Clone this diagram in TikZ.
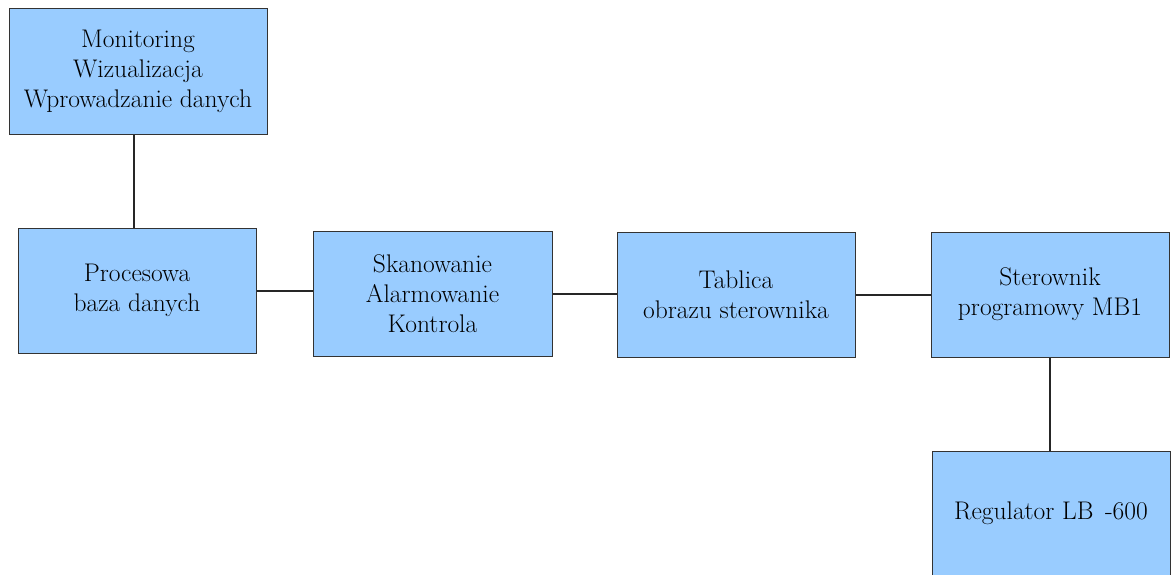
\documentclass[tikz,border=0pt]{standalone}
\usepackage{fontspec}
\begin{document}
\begin{tikzpicture}[x=1pt,y=-1pt,
  blockbox/.style={draw=black!80, line width=1pt, fill=boxblue,
    minimum width=#1, minimum height=125pt, align=center, inner sep=0pt,
    font=\fontsize{25.5}{30}\selectfont, text=black},
  blockbox/.default=238pt,
  link/.style={draw=black!85, line width=2pt}]
\definecolor{boxblue}{HTML}{99CCFF}
\useasboundingbox (0,0) rectangle (1171,574);
\clip (0,0) rectangle (1171,574);

% blocks
\node[blockbox=258pt, minimum height=126pt] (mon) at (138,71.5)
  {Monitoring\\Wizualizacja\\Wprowadzanie danych};
\node[blockbox] (baza) at (137,290.5) {Procesowa\\baza danych};
\node[blockbox=239pt] (skan) at (432.5,293.5) {Skanowanie\\Alarmowanie\\Kontrola};
\node[blockbox] (tab) at (736,294.5) {Tablica\\obrazu sterownika};
\node[blockbox] (ster) at (1050,294.5) {Sterownik\\programowy MB1};
\node[blockbox] (reg) at (1051,513.5) {Regulator LB\hspace{0.45em}-600};

% connections
\coordinate (c1) at (134,0);
\draw[link] (mon.south -| c1) -- (baza.north -| c1);
\draw[link] (baza.east) -- (baza.east -| skan.west);
\draw[link] (skan.east) -- (skan.east -| tab.west);
\draw[link] (tab.east) -- (ster.west);
\draw[link] (ster.south) -- (ster.south |- reg.north);
\end{tikzpicture}
\end{document}
